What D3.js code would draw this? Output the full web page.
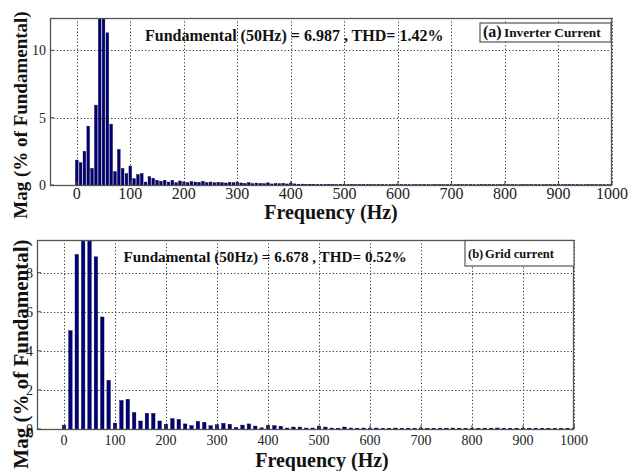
<!DOCTYPE html>
<html><head><meta charset="utf-8">
<script src="https://cdn.jsdelivr.net/npm/d3@7"></script>
<style>body{margin:0;background:#fff}svg{display:block}</style>
</head><body>
<svg id="c" width="637" height="471"></svg>
<script>
// ---- Data ----
// (a) Inverter current: harmonic spectrum, bin step 50/7 Hz, % of fundamental
const invStep = 50 / 7;
const invMag = [
  1.85, 1.65, 2.5, 4.37, 1.23, 5.93, 13, 100, 11.3, 4.52,
  0.99, 2.64, 1.23, 0.84, 1.41, 0.47, 0.77, 0.85, 0.22, 0.62,
  0.5, 0.35, 0.27, 0.35, 0.22, 0.35, 0.17, 0.3, 0.22, 0.17,
  0.25, 0.22, 0.2, 0.27, 0.17, 0.22, 0.17, 0.2, 0.17, 0.15,
  0.2, 0.17, 0.22, 0.15, 0.12, 0.18, 0.1, 0.14, 0.12, 0.1,
  0.16, 0.08, 0.12, 0.1, 0.13, 0.08, 0.15, 0.08, 0.06, 0.07,
  0.05, 0.06, 0.05, 0.04, 0.05, 0.04, 0.05, 0.04, 0.03, 0.04,
  0.05, 0.03, 0.04, 0.03, 0.03, 0.04, 0.03, 0.03, 0.02, 0.03,
  0.03, 0.02, 0.03, 0.03, 0.02, 0.03, 0.02, 0.02, 0.03, 0.02,
  0.02, 0.03, 0.02, 0.02, 0.02, 0.03, 0.02, 0.02, 0.02, 0.02,
  0.03, 0.02, 0.02, 0.02, 0.02, 0.02, 0.03, 0.02, 0.02, 0.02,
  0.02, 0.02, 0.02, 0.02, 0.03, 0.02, 0.02, 0.02, 0.02, 0.02,
  0.02, 0.02, 0.02, 0.02, 0.02, 0.02, 0.02, 0.02, 0.02, 0.02,
  0.02, 0.02, 0.02, 0.02, 0.02, 0.02, 0.02, 0.02, 0.02, 0.02,
  0.02
];
// (b) Grid current: bin step 12.5 Hz
const gridStep = 12.5;
const gridMag = [
  0.2, 5.03, 8.93, 10.5, 100, 8.81, 5.73, 2.49, 0.3, 1.46,
  1.52, 0.84, 0.41, 0.8, 0.8, 0.41, 0.24, 0.53, 0.49, 0.26,
  0.17, 0.39, 0.34, 0.17, 0.22, 0.29, 0.24, 0.08, 0.2, 0.26,
  0.15, 0.06, 0.19, 0.17, 0.14, 0.05, 0.1, 0.1, 0.05, 0.05,
  0.14, 0.1, 0.05, 0.04, 0.1, 0.05, 0.04, 0.05, 0.04, 0.05,
  0.04, 0.04, 0.05, 0.04, 0.04, 0.04, 0.05, 0.04, 0.04, 0.04,
  0.04, 0.05, 0.04, 0.04, 0.04, 0.04, 0.04, 0.04, 0.05, 0.04,
  0.04, 0.04, 0.04, 0.04, 0.04, 0.04, 0.04, 0.04, 0.04, 0.04,
  0.04
];
const xTicks = [0, 100, 200, 300, 400, 500, 600, 700, 800, 900, 1000];
const invYTicks = [0, 5, 10];
const gridYTicks = [0, 2, 4, 6, 8];
const invTitle = "Fundamental (50Hz) = 6.987 , THD= 1.42%";
const gridTitle = "Fundamental (50Hz) = 6.678 , THD= 0.52%";
const invLegend = ["(a)", "Inverter Current"];
const gridLegend = ["(b)", "Grid current"];
const xLabel = "Frequency (Hz)";
const yLabel = "Mag (% of Fundamental)";

// ---- Drawing ----
const svg = d3.select("#c");
const serif = "'Liberation Serif','Times New Roman',serif";

const panels = [
  { id: "a", mag: invMag, step: invStep, yTicks: invYTicks, title: invTitle, legend: invLegend,
    L: 50, T: 18, R: 612, B: 185, xMin: -50, yMax: 12.4, barW: 2.7,
    xTickFs: 16, xTickY: 199, yTickFs: 14, yTickX: 46,
    xLabelFs: 20, xLabelX: 331, xLabelY: 219, yLabelFs: 19, yLabelX: 27, yLabelY: 115,
    titleX: 145, titleY: 41, titleFs: 16,
    box: { x: 480, y: 23, w: 131, h: 19, t1x: 483, t2x: 504, ty: 37, f1: 16, f2: 13.3 } },
  { id: "b", mag: gridMag, step: gridStep, yTicks: gridYTicks, title: gridTitle, legend: gridLegend,
    L: 37, T: 240, R: 574, B: 429, xMin: -53, yMax: 9.67, barW: 3.5,
    xTickFs: 14, xTickY: 445, yTickFs: 14, yTickX: 33,
    xLabelFs: 20, xLabelX: 322, xLabelY: 467, yLabelFs: 21, yLabelX: 28, yLabelY: 354,
    titleX: 123.5, titleY: 262, titleFs: 15.2,
    box: { x: 465, y: 240.5, w: 109, h: 25.5, t1x: 468, t2x: 485, ty: 258, f1: 12.5, f2: 12.5 } }
];

panels.forEach(p => {
  const x = d3.scaleLinear().domain([p.xMin, 1000]).range([p.L, p.R]);
  const y = d3.scaleLinear().domain([0, p.yMax]).range([p.B, p.T]);
  const g = svg.append("g");

  g.append("clipPath").attr("id", "clip-" + p.id)
    .append("rect").attr("x", p.L).attr("y", p.T).attr("width", p.R - p.L).attr("height", p.B - p.T);

  // grid
  const grid = g.append("g").attr("stroke", "#333").attr("stroke-width", 1).attr("stroke-dasharray", "1.2,2.2");
  grid.selectAll("line.v").data(xTicks).join("line")
    .attr("x1", d => Math.round(x(d)) + 0.5).attr("x2", d => Math.round(x(d)) + 0.5)
    .attr("y1", p.T).attr("y2", p.B);
  grid.selectAll("line.h").data(p.yTicks.filter(d => d > 0)).join("line")
    .attr("y1", d => Math.round(y(d)) + 0.5).attr("y2", d => Math.round(y(d)) + 0.5)
    .attr("x1", p.L).attr("x2", p.R);

  // bars
  g.append("g").attr("clip-path", "url(#clip-" + p.id + ")")
    .selectAll("rect").data(p.mag).join("rect")
    .attr("x", (d, i) => x(i * p.step) - p.barW / 2)
    .attr("width", p.barW)
    .attr("y", d => y(d))
    .attr("height", d => Math.max(0, y(0) - y(d)))
    .attr("fill", "#00007a").attr("stroke", "#000033").attr("stroke-width", 0.4);

  // axes frame
  g.append("rect").attr("x", p.L + 0.5).attr("y", p.T + 0.5)
    .attr("width", p.R - p.L - 1).attr("height", p.B - p.T)
    .attr("fill", "none").attr("stroke", "#555").attr("stroke-width", 1.3);

  // x tick marks & labels
  const xa = g.append("g");
  xa.selectAll("line").data(xTicks).join("line")
    .attr("x1", d => x(d)).attr("x2", d => x(d)).attr("y1", p.B).attr("y2", p.B - 4)
    .attr("stroke", "#444");
  xa.selectAll("text").data(xTicks).join("text")
    .attr("x", d => x(d)).attr("y", p.xTickY).attr("text-anchor", "middle")
    .attr("font-family", serif).attr("font-size", p.xTickFs).attr("fill", "#222")
    .text(d => d);

  // y tick marks & labels
  const ya = g.append("g");
  ya.selectAll("line").data(p.yTicks).join("line")
    .attr("x1", p.L).attr("x2", p.L + 4).attr("y1", d => y(d)).attr("y2", d => y(d))
    .attr("stroke", "#444");
  ya.selectAll("text").data(p.yTicks).join("text")
    .attr("x", p.yTickX).attr("y", d => y(d) + 5).attr("text-anchor", "end")
    .attr("font-family", serif).attr("font-size", p.yTickFs).attr("fill", "#222")
    .text(d => d);

  // axis labels
  g.append("text").attr("x", p.xLabelX).attr("y", p.xLabelY).attr("text-anchor", "middle")
    .attr("font-family", serif).attr("font-weight", "bold").attr("font-size", p.xLabelFs)
    .attr("fill", "#111").text(xLabel);
  g.append("text").attr("transform", `translate(${p.yLabelX},${p.yLabelY}) rotate(-90)`)
    .attr("text-anchor", "middle")
    .attr("font-family", serif).attr("font-weight", "bold").attr("font-size", p.yLabelFs)
    .attr("fill", "#111").text(yLabel);

  // annotation
  g.append("text").attr("x", p.titleX).attr("y", p.titleY)
    .attr("font-family", serif).attr("font-weight", "bold").attr("font-size", p.titleFs)
    .attr("fill", "#111").text(p.title);

  // legend box
  const b = p.box;
  g.append("rect").attr("x", b.x).attr("y", b.y).attr("width", b.w).attr("height", b.h)
    .attr("fill", "#fff").attr("stroke", "#555").attr("stroke-width", 1.2);
  g.append("text").attr("x", b.t1x).attr("y", b.ty)
    .attr("font-family", serif).attr("font-weight", "bold").attr("font-size", b.f1)
    .attr("fill", "#111").text(p.legend[0]);
  g.append("text").attr("x", b.t2x).attr("y", b.ty)
    .attr("font-family", serif).attr("font-weight", "bold").attr("font-size", b.f2)
    .attr("fill", "#111").text(p.legend[1]);
});
</script>
</body></html>
